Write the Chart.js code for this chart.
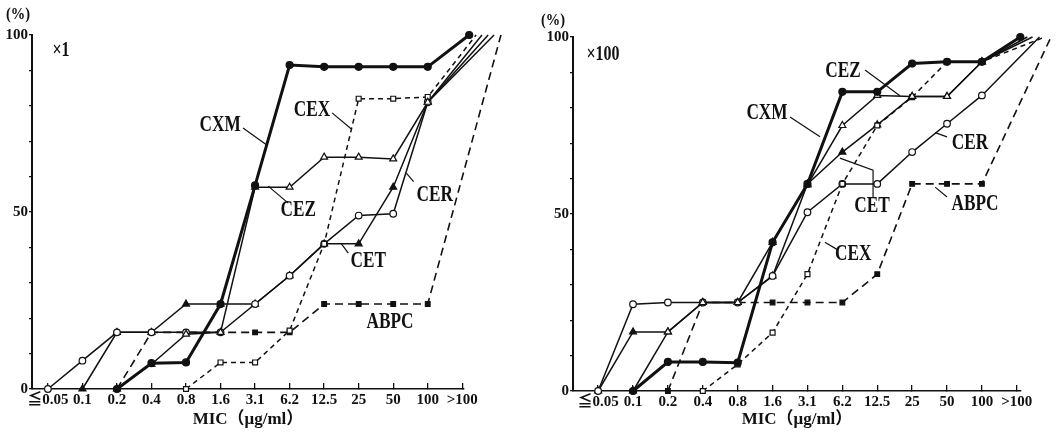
<!DOCTYPE html>
<html>
<head>
<meta charset="utf-8">
<script src="https://cdn.jsdelivr.net/npm/chart.js@4"></script>
<style>
  html, body { margin: 0; padding: 0; background: #fff; }
  #wrap { position: relative; width: 1061px; height: 433px; }
  canvas { position: absolute; top: 0; }
  #chartL { left: 0; }
  #chartR { left: 530px; }
</style>
</head>
<body>
<div id="wrap">
  <canvas id="chartL" width="530" height="433"></canvas>
  <canvas id="chartR" width="531" height="433"></canvas>
</div>
<script>
const categories = ["≦0.05", "0.1", "0.2", "0.4", "0.8", "1.6", "3.1", "6.2", "12.5", "25", "50", "100", ">100"];
const yLabels = [0, 50, 100];

// cumulative % per MIC category, inoculum x1
const cxm1  = [null, null, 0, 7.3, 7.5, 24, 57.5, 91.5, 91, 91, 91, 91, 100];
const cez1  = [null, null, 0, 7, 15.5, 16, 57, 57, 65.5, 65.5, 65, 81, 100];
const cex1  = [null, null, null, null, 0, 7.5, 7.5, 16.5, 41, 82, 82, 82.5, 100];
const cer1  = [0, 8, 16, 16, 16, 16, 24, 32, 41, 49, 49.5, 81, 100];
const cet1  = [null, 0, 16, 16, 24, 24, 24, 32, 41, 41, 57, 81, 100];
const abpc1 = [null, null, 0, 16, 16, 16, 16, 16, 24, 24, 24, 24, 100];

// cumulative % per MIC category, inoculum x100
const cxm100  = [null, 0, 8.2, 8.2, 8, 42, 58.5, 84.5, 84.5, 92.5, 93, 93, 100];
const cez100  = [null, 0, 16.7, 25, 25, 42, 58.2, 75, 83.5, 83.2, 83.2, 93, 100];
const cex100  = [null, null, null, 0, 7.5, 16.5, 33, 58.5, 75, 83, 93, 93, 100];
const cer100  = [0, 24.5, 25, 25, 25, 32.5, 50.5, 58.5, 58.5, 67.5, 75.5, 83.5, 100];
const cet100  = [0, 16.7, 16.7, 25, 25, 32.5, 58.5, 67.5, 75.2, 83.2, 83.2, 93, 100];
const abpc100 = [null, null, 0, 25, 25, 25, 25, 25, 33, 58.5, 58.5, 58.5, 100];

// the ">100" points are spread out to the right in the original
const end1   = { CXM: 12.2, CEX: 12.4, CEZ: 12.57, CET: 12.75, CER: 12.92, ABPC: 13.12 };
const end100 = { CXM: 12.1, CET: 12.3, CEZ: 12.45, CER: 12.65, CEX: 12.8, ABPC: 12.98 };

const names = ["CXM", "CEZ", "CEX", "CER", "CET", "ABPC"];
const ink = "#111";
const styles = {
  CXM:  { lw: 3,   shape: "circle",   r: 3.5, fill: ink,    dash: [] },
  CEZ:  { lw: 1.5, shape: "triangle", r: 4,   fill: "#fff", dash: [] },
  CEX:  { lw: 1.5, shape: "rect",     r: 3.5, fill: "#fff", dash: [5, 4] },
  CER:  { lw: 1.5, shape: "circle",   r: 3.3, fill: "#fff", dash: [] },
  CET:  { lw: 1.5, shape: "triangle", r: 4,   fill: ink,    dash: [] },
  ABPC: { lw: 1.6, shape: "rect",     r: 3.3, fill: ink,    dash: [8, 5] },
};

function toPoints(ys, endX) {
  const out = [];
  ys.forEach((v, i) => {
    if (v !== null) out.push({ x: i === ys.length - 1 ? endX : i, y: v });
  });
  return out;
}

// condensed serif text like the printed figure
function drawText(ctx, text, px, py, size, squeeze) {
  ctx.save();
  ctx.translate(px, py);
  ctx.scale(squeeze, 1);
  ctx.font = "bold " + size + "px 'Liberation Serif', 'Noto Sans CJK JP', serif";
  ctx.textAlign = "center";
  ctx.textBaseline = "middle";
  ctx.fillText(text, 0, 0);
  ctx.restore();
}

const notesPlugin = {
  id: "notes",
  afterDatasetsDraw(chart, args, opts) {
    const { ctx, chartArea } = chart;
    const x = chart.scales.x, y = chart.scales.y;
    ctx.save();
    ctx.fillStyle = ink;
    ctx.strokeStyle = ink;
    ctx.lineWidth = 1.2;
    opts.labels.forEach((it) => {
      if (it.line) {
        ctx.beginPath();
        it.line.forEach(([a, b], k) => {
          const px = x.getPixelForValue(a), py = y.getPixelForValue(b);
          if (k) ctx.lineTo(px, py); else ctx.moveTo(px, py);
        });
        ctx.stroke();
      }
      drawText(ctx, it.text, x.getPixelForValue(it.x), y.getPixelForValue(it.y), 23, 0.75);
    });
    drawText(ctx, "(%)", chartArea.left + opts.pct[0], chartArea.top + opts.pct[1], 17, 0.85);
    drawText(ctx, opts.factor, chartArea.left + opts.fac[0], chartArea.top + opts.fac[1], 20, 0.8);
    ctx.restore();
  },
};

function makeChart(id, series, endX, cfg) {
  const datasets = names.map((n) => ({
    label: n,
    data: toPoints(series[n], endX[n]),
    borderColor: ink,
    borderWidth: styles[n].lw,
    borderDash: styles[n].dash,
    pointStyle: styles[n].shape,
    pointRadius: styles[n].r,
    pointBackgroundColor: styles[n].fill,
    pointBorderColor: ink,
    pointBorderWidth: 1.2,
    tension: 0,
    clip: false,
  }));

  return new Chart(document.getElementById(id), {
    type: "line",
    data: { datasets },
    plugins: [notesPlugin],
    options: {
      responsive: false,
      animation: false,
      layout: { padding: { top: cfg.top, right: cfg.right, left: 0, bottom: 0 } },
      plugins: {
        legend: { display: false },
        tooltip: { enabled: false },
        notes: { labels: cfg.labels, factor: cfg.factor, pct: cfg.pct, fac: cfg.fac },
      },
      scales: {
        x: {
          type: "linear",
          min: cfg.xmin,
          max: cfg.xmax,
          afterBuildTicks: (s) => { s.ticks = s.ticks.filter((t) => Number.isInteger(t.value)); },
          afterFit: (s) => { s.height = cfg.xh; },
          ticks: {
            stepSize: 1,
            includeBounds: false,
            autoSkip: false,
            maxRotation: 0,
            padding: 8,
            color: ink,
            font: { family: "'Liberation Serif', 'Noto Sans CJK JP', serif", size: 15, weight: "bold" },
            callback: (v) => categories[v] ?? "",
          },
          grid: { drawOnChartArea: false, tickLength: -6, color: ink, lineWidth: 1.3 },
          border: { color: ink, width: 1.6 },
          title: {
            display: true,
            text: "MIC（μg/ml）",
            color: ink,
            padding: { top: 0, bottom: 3 },
            font: { family: "'Liberation Serif', 'Noto Sans CJK JP', serif", size: 17, weight: "bold" },
          },
        },
        y: {
          min: 0,
          max: 100,
          afterFit: (s) => { s.width = cfg.yw; },
          ticks: {
            stepSize: 10,
            padding: 1,
            color: ink,
            font: { family: "'Liberation Serif', serif", size: 15, weight: "bold" },
            callback: (v) => (yLabels.includes(v) ? v : ""),
          },
          grid: { drawOnChartArea: false, tickLength: 3, color: ink, lineWidth: 1.3 },
          border: { color: ink, width: 2 },
        },
      },
    },
  });
}

makeChart("chartL",
  { CXM: cxm1, CEZ: cez1, CEX: cex1, CER: cer1, CET: cet1, ABPC: abpc1 },
  end1,
  {
    top: 35, right: 66, xh: 44, yw: 32, xmin: -0.46, xmax: 12.05,
    factor: "×1", pct: [-14, -20], fac: [29, 16],
    labels: [
      { text: "CXM", x: 4.99, y: 74.6, line: [[5.65, 73.7], [6.33, 69]] },
      { text: "CEX", x: 7.65, y: 78.8, line: [[8.23, 78], [8.78, 73.5]] },
      { text: "CEZ", x: 7.25, y: 50.6, line: [[6.38, 57.3], [6.96, 52.5]] },
      { text: "CER", x: 11.2, y: 54.8, line: [[10.59, 58.6], [10.38, 61]] },
      { text: "CET", x: 9.28, y: 36.2, line: [[8.7, 38.4], [8.5, 41]] },
      { text: "ABPC", x: 9.91, y: 18.9 },
    ],
  });

makeChart("chartR",
  { CXM: cxm100, CEZ: cez100, CEX: cex100, CER: cer100, CET: cet100, ABPC: abpc100 },
  end100,
  {
    top: 37, right: 40, xh: 42, yw: 43, xmin: -0.72, xmax: 12.12,
    factor: "×100", pct: [-20, -16], fac: [30, 18],
    labels: [
      { text: "CEZ", x: 7.02, y: 90.5, line: [[7.65, 90.7], [8.65, 83.4]] },
      { text: "CXM", x: 4.84, y: 78.6, line: [[5.5, 77.4], [6.36, 71.8]] },
      { text: "CER", x: 10.66, y: 70.1, line: [[10, 71.8], [9.66, 73]] },
      { text: "CET", x: 7.85, y: 52.2, line: [[7.88, 54.5], [7.88, 62.4], [6.93, 65.8]] },
      { text: "ABPC", x: 10.8, y: 52.8, line: [[10, 54.8], [9.66, 57.6]] },
      { text: "CEX", x: 7.31, y: 38.6, line: [[6.88, 39.8], [6.5, 42]] },
    ],
  });
</script>
</body>
</html>
